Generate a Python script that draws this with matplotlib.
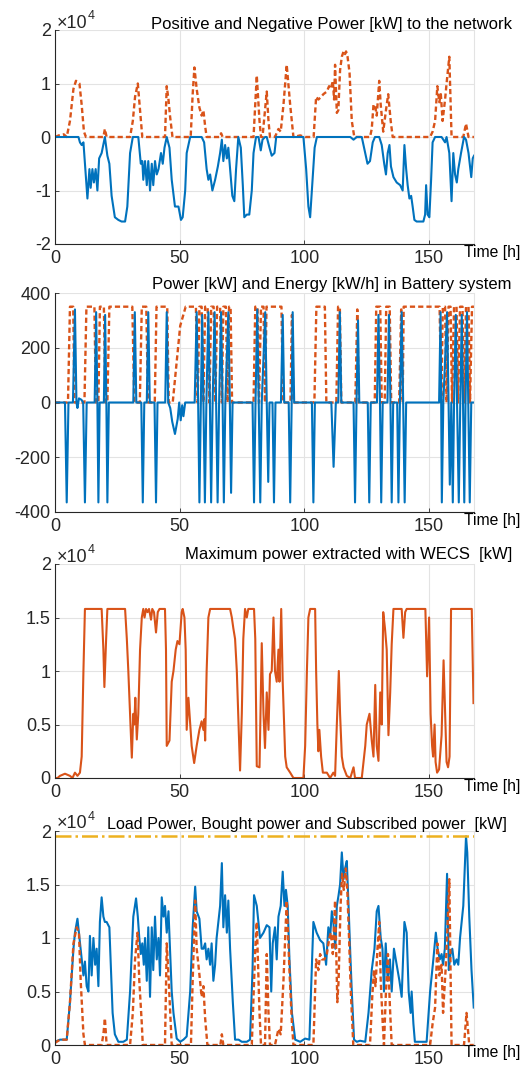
import matplotlib
matplotlib.use('Agg')
import matplotlib.pyplot as plt

plt.rcParams['font.family'] = ['Liberation Sans', 'DejaVu Sans']
plt.rcParams['axes.unicode_minus'] = False

# ---- data, power values in units of 1e4 kW ----
# panel 1: power to the network
net_neg_t = [0, 9.4, 10.0, 10.7, 11.4, 12.0, 13.0, 13.8, 14.3, 15.0, 15.6, 16.3, 17.0, 17.7, 18.7, 20.0,
             21.0, 21.8, 22.7, 24.0, 25.4, 26.7, 28.1, 29.0, 30.1, 31.2, 33.4, 34.4, 35.0, 35.4, 36.1,
             36.8, 37.4, 38.1, 38.8, 39.4, 40.1, 40.8, 41.5, 42.5, 43.2, 43.9, 44.8, 45.9, 46.8, 48.1,
             49.5, 50.5, 51.2, 52.2, 52.8, 54.2, 58.8, 59.8, 60.8, 61.5, 62.2, 63.1, 64.2, 65.3, 66.2,
             66.9, 67.5, 68.2, 68.9, 69.5, 70.2, 71.1, 71.9, 72.6, 73.5, 74.5, 75.3, 75.9, 76.9, 77.9,
             78.9, 79.6, 80.6, 81.6, 82.5, 83.2, 84.2, 84.9, 86.0, 86.9, 88.0, 88.7, 99.6, 100.7, 101.6,
             102.3, 103.0, 104.1, 105.0, 118.4, 119.7, 121.0, 123.0, 124.4, 125.3, 126.3, 127.4, 128.3,
             130.0, 131.0, 132.0, 132.7, 133.4, 134.1, 134.7, 135.7, 137.0, 138.4, 139.4, 140.1, 140.8,
             141.4, 142.1, 142.8, 143.4, 144.1, 145.0, 147.7, 148.4, 148.8, 149.4, 150.1, 150.8, 151.4,
             152.4, 155.0, 155.7, 156.4, 157.0, 158.1, 159.0, 159.7, 160.4, 161.1, 161.7, 162.8, 164.0,
             164.8, 165.8, 166.9, 167.5, 168.0]
net_neg_v = [0, 0, -0.1, -0.15, -0.1, -0.5, -1.15, -0.6, -0.95, -0.6, -0.85, -0.6, -1.0, -0.4, -0.3, 0.0,
             -0.35, -0.5, -1.1, -1.5, -1.55, -1.58, -1.58, -1.3, -0.3, 0.0, 0.0, -0.5, -0.45, -0.8, -0.45,
             -0.9, -0.45, -1.0, -0.5, -0.9, -0.45, -0.7, -0.6, -0.3, -0.5, -0.2, 0.0, -0.2, -0.8, -1.3,
             -1.3, -1.55, -1.5, -1.0, -0.3, 0.0, 0.0, -0.1, -0.6, -0.8, -0.7, -1.0, -0.8, -0.55, -0.3,
             -0.05, -0.45, -0.15, -0.4, -0.2, -0.6, -1.1, -1.2, -0.6, 0.0, -0.2, -0.9, -1.5, -1.45, -1.45,
             -1.0, -0.3, 0.0, 0.0, -0.25, -0.05, 0.0, 0.0, -0.2, -0.35, -0.3, 0.0, 0.0, -0.6, -1.3,
             -1.5, -1.0, -0.2, 0.0, 0.0, -0.05, 0.0, 0.0, -0.3, -0.5, -0.45, -0.1, 0.0,
             0.0, -0.15, -0.5, -0.7, -0.3, -0.15, -0.55, -0.75, -0.85, -0.9, -1.0, -0.15, -0.6,
             -0.9, -1.15, -1.1, -1.3, -1.55, -1.58, -1.58, -1.45, -0.9, -1.45, -1.5, -0.8, -0.1,
             0.0, 0.0, -0.05, -0.1, 0.0, -0.3, -1.2, -0.3, -0.7, -0.85, -0.6, -0.3, 0.0,
             -0.05, -0.3, -0.75, -0.4, -0.35]

net_pos_t = [0, 1.5, 3.5, 4.7, 6.0, 7.4, 8.4, 9.8, 10.7, 11.6, 12.4, 19.4, 20.0, 20.7, 30.1, 31.2, 32.1,
             33.2, 34.1, 35.0, 44.1, 44.8, 45.5, 46.1, 47.1, 54.4, 55.2, 55.9, 56.8, 57.9, 58.8, 59.5,
             60.2, 60.8, 66.0, 66.6, 67.2, 79.6, 80.9, 82.0, 82.6, 83.2, 84.9, 85.6, 86.2, 88.2, 89.6,
             90.5, 91.6, 92.9, 94.3, 95.6, 98.3, 100.3, 103.7, 104.7, 105.6, 106.7, 107.6, 109.0, 109.9,
             110.6, 111.4, 111.9, 112.3, 113.0, 113.6, 114.3, 115.0, 115.7, 116.3, 116.7, 117.3, 118.1,
             119.0, 120.0, 126.3, 127.0, 127.7, 128.3, 129.0, 130.0, 130.6, 131.6, 132.7, 133.6, 134.6,
             135.4, 150.4, 151.4, 152.4, 153.3, 154.1, 154.7, 155.4, 156.4, 157.0, 158.1, 159.0, 163.7,
             164.8, 165.8, 168.0]
net_pos_v = [0, 0.03, 0.05, 0.0, 0.3, 0.9, 1.05, 1.0, 0.6, 0.1, 0.0, 0.0, 0.15, 0.0, 0.0, 0.3, 0.75,
             1.0, 0.5, 0.0, 0.0, 0.95, 0.7, 0.4, 0.0, 0.0, 0.8, 1.3, 0.9, 0.55, 0.4, 0.5,
             0.2, 0.0, 0.0, 0.07, 0.0, 0.0, 1.15, 0.3, 0.0, 0.0, 0.85, 0.3, 0.0, 0.0, 0.15,
             0.1, 0.6, 1.35, 0.6, 0.0, 0.03, 0.0, 0.0, 0.75, 0.7, 0.75, 0.8, 0.85, 0.95,
             0.9, 1.05, 0.7, 1.35, 0.45, 0.5, 1.25, 1.5, 1.6, 1.55, 1.6, 1.5, 1.2,
             0.3, 0.0, 0.0, 0.15, 0.6, 0.6, 0.4, 1.05, 0.6, 0.1, 0.5, 0.8, 0.3,
             0.0, 0.0, 0.1, 0.3, 0.95, 0.65, 0.8, 0.3, 0.7, 1.0, 1.5, 0.0, 0.0,
             0.25, 0.0, 0.0]

# panel 2: battery power [kW] and energy [kW/h]
bat_p_t = [0, 4.0, 4.7, 5.4, 7.2, 8.0, 8.6, 9.0, 9.6, 10.6, 11.3, 12.0, 12.7, 15.9, 16.5, 17.0, 17.4,
           17.9, 19.6, 20.1, 20.6, 21.0, 21.6, 31.4, 32.0, 32.6, 34.6, 35.2, 35.8, 36.8, 37.4, 38.0,
           39.9, 40.5, 41.1, 44.2, 44.8, 45.4, 46.2, 47.0, 48.1, 49.2, 49.8, 50.4, 51.0, 51.5, 52.2,
           56.0, 56.8, 57.4, 57.9, 58.5, 59.0, 59.5, 60.1, 60.7, 61.5, 62.1, 62.6, 63.2, 64.0, 64.6,
           65.2, 65.8, 66.6, 67.2, 67.7, 68.3, 69.5, 70.1, 70.6, 71.2, 79.2, 79.8, 80.4, 81.1, 81.7,
           82.3, 82.9, 84.3, 84.9, 85.5, 86.0, 87.2, 87.8, 88.4, 90.6, 91.3, 91.9, 93.7, 94.3, 94.9,
           95.3, 95.9, 103.0, 103.6, 104.2, 110.8, 111.7, 112.6, 113.6, 114.2, 114.8, 119.7, 120.3,
           120.9, 121.5, 122.0, 125.4, 126.0, 126.6, 129.1, 129.7, 130.3, 130.8, 131.4, 133.3, 133.9,
           134.5, 135.0, 135.6, 137.2, 137.7, 138.3, 139.0, 139.6, 140.2, 140.8, 154.0, 154.6, 155.1,
           155.7, 157.2, 157.8, 158.3, 158.9, 159.5, 160.0, 160.7, 161.2, 161.9, 162.5, 163.1, 163.6,
           164.1, 164.6, 165.2, 165.7, 166.3, 166.9, 168.0]
bat_p_v = [0, 0, -365, 0, 0, 340, 0, -20, 15, 10, 0, -365, 0, 0, 330, 0, -365,
           0, 0, 320, 0, -365, 0, 0, 330, 0, 0, -365, 0, 0, 330, 0,
           0, -365, 0, 0, 330, 0, -20, -70, -115, -60, 0, -65, -10, -50, 0,
           0, 330, 0, -365, 0, 320, 0, -365, 0, 330, 0, -365, 0, 330, 0,
           -365, 0, 330, 0, -365, 0, 330, 0, -330, 0, 0, -365, 0, 340, 0,
           -365, 0, 330, 0, -290, 0, 0, -365, 0, 0, 320, 0, 0, -365, 0,
           330, 0, 0, -365, 0, 0, -235, 0, 0, 330, 0, 0, -365,
           0, 300, 0, 0, -365, 0, 0, 320, 0, -365, 0, 0, 320,
           0, -365, 0, 0, -365, 0, 330, 0, -365, 0, 0, 330, -365,
           0, 330, 0, -300, 0, -365, 0, 320, 0, -365, 0, 320, 0,
           -365, 0, 330, 0, -365, 0, 0]

bat_e_t = [0, 5.2, 6.0, 7.3, 7.8, 11.8, 12.6, 15.8, 16.4, 17.4, 18.0, 19.6, 20.2, 21.0, 21.8, 31.0,
           31.8, 34.0, 34.8, 36.6, 37.3, 40.0, 40.7, 45.0, 45.6, 47.2, 50.2, 52.4, 56.5, 57.2, 57.9,
           58.8, 59.5, 60.2, 61.2, 61.9, 62.6, 63.6, 64.3, 65.0, 66.2, 66.9, 67.5, 68.5, 69.2, 69.8,
           70.4, 71.0, 79.6, 80.3, 81.2, 81.8, 82.6, 83.6, 84.2, 84.8, 90.8, 91.4, 94.4, 95.0, 95.6,
           104.0, 104.8, 108.2, 108.8, 112.8, 113.5, 114.2, 114.8, 120.4, 121.2, 121.8, 128.2, 128.8,
           130.4, 131.0, 132.2, 132.8, 134.2, 134.8, 138.0, 138.8, 139.4, 139.8, 154.2, 154.9, 155.5,
           156.4, 157.0, 157.8, 158.6, 159.2, 160.0, 161.0, 161.6, 162.4, 163.4, 164.0, 164.8, 165.8,
           166.4, 167.2, 168.0]
bat_e_v = [0, 0, 350, 350, 0, 0, 350, 350, 0, 0, 350, 350, 0, 0, 350, 350,
           0, 0, 350, 350, 0, 0, 350, 350, 0, 0, 280, 350, 350, 0, 350,
           350, 0, 350, 350, 0, 350, 350, 0, 350, 350, 0, 350, 350, 0, 350,
           350, 0, 0, 350, 350, 0, 350, 350, 0, 350, 350, 0, 0, 320, 0,
           0, 350, 350, 0, 0, 350, 350, 0, 0, 340, 0, 0, 350,
           350, 0, 0, 350, 350, 0, 0, 340, 0, 350, 350, 0, 350,
           350, 0, 350, 350, 0, 350, 350, 0, 350, 350, 0, 350, 350,
           0, 350, 350]

# panel 3: maximum power extracted with WECS
wecs_t = [0, 1.0, 2.0, 4.0, 6.0, 7.0, 8.0, 9.0, 10.0, 10.7, 11.4, 12.0, 18.7, 19.4, 19.8, 20.5, 21.0,
          28.1, 28.8, 29.4, 30.1, 30.8, 31.4, 31.8, 32.2, 32.8, 33.4, 34.1, 34.8, 35.4, 35.9, 36.5,
          37.1, 37.7, 38.5, 39.0, 39.7, 40.5, 41.2, 41.9, 44.1, 44.5, 44.8, 45.9, 46.8, 47.5, 48.4,
          49.1, 49.9, 50.8, 51.2, 51.9, 52.4, 52.8, 53.5, 54.2, 54.8, 55.8, 56.8, 57.9, 58.8, 59.5,
          59.9, 60.2, 60.8, 61.5, 62.2, 70.2, 70.9, 71.5, 72.2, 72.9, 73.6, 74.2, 74.9, 75.5, 76.2,
          76.9, 77.5, 79.8, 80.3, 80.9, 82.0, 82.9, 83.6, 84.2, 84.9, 85.6, 86.2, 86.9, 87.6, 88.2,
          88.9, 89.6, 90.0, 90.7, 91.3, 92.3, 92.9, 94.3, 95.6, 99.6, 100.3, 101.0, 101.6, 102.3,
          104.3, 104.7, 105.2, 105.6, 106.0, 106.7, 107.4, 109.0, 110.3, 111.6, 112.3, 113.0, 113.8,
          114.3, 115.0, 115.7, 117.0, 118.4, 119.7, 120.3, 123.0, 124.4, 125.0, 126.1, 127.0, 127.7,
          128.4, 129.0, 129.7, 130.4, 131.0, 131.6, 132.3, 133.0, 133.7, 134.4, 135.0, 135.7, 139.0,
          139.7, 140.4, 141.0, 148.5, 149.2, 150.0, 150.6, 151.2, 151.6, 152.2, 152.6, 153.2, 154.0,
          155.0, 155.8, 156.3, 157.0, 157.6, 158.2, 158.8, 167.1, 167.8]
wecs_v = [0, 0.0, 0.02, 0.04, 0.02, 0.0, 0.05, 0.02, 0.05, 0.2, 1.0, 1.58, 1.58, 1.2, 0.85, 1.3, 1.58,
          1.58, 1.3, 1.0, 0.6, 0.19, 0.6, 0.5, 0.75, 0.36, 0.6, 1.2, 1.5, 1.58, 1.5, 1.58,
          1.55, 1.58, 1.48, 1.58, 1.55, 1.36, 1.55, 1.58, 1.58, 1.2, 0.3, 0.35, 0.9, 1.0, 1.2,
          1.28, 1.25, 1.55, 1.58, 1.5, 1.2, 0.45, 0.75, 0.5, 0.3, 0.14, 0.3, 0.45, 0.53, 0.45,
          0.55, 0.35, 1.0, 1.5, 1.58, 1.58, 1.5, 1.4, 1.3, 1.0, 0.5, 0.07, 0.6, 1.3, 1.58,
          1.5, 1.58, 1.58, 1.3, 0.11, 0.1, 1.26, 0.6, 0.28, 0.8, 0.45, 0.97, 1.0, 1.5, 1.0,
          0.9, 1.2, 0.9, 1.58, 0.9, 0.2, 0.1, 0.05, 0.0, 0.0, 0.3, 1.0, 1.5, 1.58,
          1.58, 1.0, 0.5, 0.25, 0.45, 0.2, 0.05, 0.05, 0.0, 0.05, 0.02, 0.5, 1.0,
          0.6, 0.2, 0.1, 0.02, 0.0, 0.1, 0.0, 0.0, 0.3, 0.5, 0.6, 0.35, 0.2,
          0.87, 0.3, 0.16, 0.8, 0.5, 1.55, 1.4, 1.2, 0.4, 0.8, 1.25, 1.58, 1.58,
          1.31, 1.55, 1.58, 1.58, 0.95, 1.5, 0.6, 0.3, 0.2, 0.5, 0.15, 0.05, 0.08,
          0.4, 1.1, 0.7, 0.15, 0.1, 0.2, 1.58, 1.58, 0.7]

# panel 4: load, bought and subscribed power
load_t = [0, 2.0, 4.7, 6.0, 7.4, 8.0, 9.0, 9.8, 10.7, 11.4, 12.0, 12.7, 13.4, 14.0, 14.7, 15.4, 16.1,
          16.7, 17.4, 18.0, 18.7, 19.4, 20.0, 20.7, 21.8, 22.3, 23.1, 24.0, 25.4, 27.4, 28.8, 30.1,
          31.4, 32.5, 33.2, 33.8, 34.4, 35.0, 35.6, 36.1, 36.8, 37.4, 38.1, 38.8, 39.4, 40.1, 40.8,
          41.5, 42.1, 42.8, 43.5, 44.1, 44.8, 45.5, 46.1, 46.8, 47.5, 48.8, 50.2, 51.5, 52.8, 54.2,
          55.2, 56.2, 56.8, 57.9, 58.8, 59.5, 60.2, 60.8, 61.5, 62.2, 62.8, 63.5, 64.2, 64.8, 65.5,
          66.2, 66.9, 67.5, 68.2, 68.9, 69.5, 70.2, 71.3, 72.2, 73.6, 74.9, 76.9, 78.2, 79.2, 79.8,
          80.9, 82.2, 83.6, 84.9, 86.0, 86.7, 87.3, 88.2, 88.9, 89.6, 90.5, 91.3, 92.0, 92.6, 93.3,
          94.0, 95.0, 96.3, 98.3, 100.3, 102.0, 103.6, 104.9, 106.3, 107.6, 108.7, 109.6, 110.3, 111.0,
          111.6, 112.4, 113.0, 113.7, 114.3, 115.0, 115.7, 116.3, 117.0, 117.7, 118.4, 119.0, 119.9,
          121.0, 122.3, 124.4, 125.7, 127.0, 128.1, 129.0, 129.7, 130.6, 131.3, 131.9, 132.6, 133.4,
          134.3, 135.0, 135.9, 137.0, 138.1, 139.0, 140.1, 141.0, 141.8, 142.6, 143.0, 143.7, 144.3,
          146.3, 149.0, 150.4, 151.7, 152.7, 153.4, 154.3, 155.0, 155.6, 156.3, 157.2, 157.9, 158.6,
          159.3, 160.1, 161.0, 161.7, 162.4, 163.7, 164.8, 165.3, 166.1, 167.0, 167.9]
load_v = [0.03, 0.05, 0.05, 0.4, 0.9, 1.05, 1.18, 1.0, 0.8, 0.65, 0.78, 0.55, 0.5, 1.02, 0.65, 1.0, 0.75,
          0.9, 0.55, 1.15, 1.38, 1.2, 1.15, 1.15, 1.1, 0.8, 0.3, 0.1, 0.03, 0.03, 0.05, 0.5,
          1.2, 1.37, 1.2, 1.0, 0.85, 0.95, 0.75, 1.0, 0.6, 1.1, 0.45, 1.1, 0.7, 1.2, 0.8,
          1.0, 0.65, 1.38, 1.2, 1.3, 1.05, 1.25, 0.9, 0.5, 0.3, 0.06, 0.03, 0.05, 0.08, 0.5,
          1.1, 1.48, 1.25, 1.18, 0.9, 0.9, 0.95, 0.8, 0.9, 0.75, 0.95, 0.6, 0.75, 1.0, 1.15,
          1.3, 1.7, 1.1, 1.4, 1.05, 1.35, 0.9, 0.4, 0.05, 0.05, 0.03, 0.03, 0.05, 0.7, 1.4,
          1.3, 1.0, 1.05, 1.12, 1.1, 0.5, 0.95, 1.1, 0.8, 1.2, 1.3, 1.62, 1.3, 1.45, 1.3,
          0.8, 0.3, 0.05, 0.03, 0.06, 0.05, 1.15, 1.05, 0.98, 0.95, 0.75, 1.1, 1.0, 1.25,
          1.15, 0.9, 1.3, 1.4, 1.5, 1.8, 1.55, 1.65, 1.72, 1.3, 0.85, 0.5, 0.05,
          0.03, 0.04, 0.03, 0.3, 0.7, 0.9, 1.25, 1.3, 1.0, 0.9, 0.5, 0.95, 0.6,
          0.8, 0.5, 0.9, 0.75, 0.6, 0.45, 1.15, 1.05, 0.5, 0.3, 0.5, 0.2, 0.03,
          0.03, 0.03, 0.5, 0.8, 1.05, 0.9, 0.8, 0.85, 0.75, 0.9, 1.6, 0.7, 0.85,
          0.9, 0.75, 0.8, 0.75, 1.0, 1.3, 1.95, 1.8, 1.2, 0.7, 0.35]

bought_t = [0, 2.0, 4.7, 6.0, 7.4, 8.7, 9.6, 10.3, 11.4, 12.0, 18.7, 19.4, 20.0, 20.7, 30.1, 31.2, 32.1,
            33.1, 33.8, 34.8, 35.2, 44.1, 44.8, 45.5, 46.1, 46.8, 54.5, 55.2, 56.2, 56.8, 57.5, 58.8,
            59.5, 60.2, 61.1, 66.3, 66.9, 67.5, 78.9, 80.3, 80.9, 82.0, 82.6, 84.2, 84.9, 85.6, 86.2,
            88.2, 89.6, 90.5, 91.6, 92.9, 94.0, 95.0, 95.6, 103.6, 104.7, 105.6, 106.3, 107.0, 108.0,
            109.0, 110.0, 110.6, 111.4, 112.3, 113.2, 113.7, 114.5, 115.1, 115.8, 116.6, 117.2, 117.9,
            118.6, 119.6, 126.3, 127.2, 127.9, 128.5, 129.3, 130.0, 130.6, 131.4, 131.9, 132.7, 133.5,
            134.3, 135.0, 150.4, 151.4, 152.4, 153.3, 154.1, 155.0, 155.6, 156.6, 157.2, 158.1, 159.0,
            164.0, 165.0, 166.1, 167.9]
bought_v = [0.02, 0.05, 0.05, 0.4, 0.95, 1.1, 1.05, 0.6, 0.1, 0.0, 0.0, 0.1, 0.25, 0.0, 0.0, 0.3, 0.8,
            1.05, 0.6, 0.2, 0.0, 0.0, 0.95, 0.65, 0.35, 0.0, 0.0, 0.6, 1.35, 0.9, 0.75, 0.45,
            0.55, 0.25, 0.0, 0.0, 0.1, 0.0, 0.0, 0.9, 1.15, 0.3, 0.0, 0.0, 0.85, 0.3, 0.0,
            0.0, 0.15, 0.1, 0.6, 1.35, 0.7, 0.2, 0.0, 0.0, 0.8, 0.7, 0.85, 0.8, 0.8,
            0.85, 1.0, 1.05, 0.85, 1.35, 0.4, 0.6, 1.3, 1.6, 1.45, 1.65, 1.45, 1.0,
            0.5, 0.0, 0.0, 0.45, 0.7, 0.55, 0.9, 1.15, 0.6, 0.2, 0.0, 0.5, 0.85,
            0.35, 0.0, 0.0, 0.2, 0.35, 0.95, 0.65, 0.75, 0.3, 0.7, 1.0, 1.55, 0.0,
            0.0, 0.3, 0.0, 0.0]

subscribed = 1.95

xticks = [0, 50, 100, 150]
titles = ['Positive and Negative Power [kW] to the network',
          'Power [kW] and Energy [kW/h] in Battery system',
          'Maximum power extracted with WECS  [kW]',
          'Load Power, Bought power and Subscribed power  [kW]']

# MATLAB default colours
c_blue = '#0072BD'
c_orange = '#D95319'
c_yellow = '#EDB120'

W, H = 523, 1066
fig = plt.figure(figsize=(W / 100, H / 100), dpi=100)


def add_panel(top, bottom):
    ax = fig.add_axes([55 / W, 1 - bottom / H, 419 / W, (bottom - top) / H])
    ax.set_xlim(0, 168)
    ax.set_xticks(xticks)
    ax.grid(True, color='#e3e3e3', lw=0.8)
    ax.set_axisbelow(True)
    for s in ['left', 'bottom']:
        ax.spines[s].set_color('#262626')
        ax.spines[s].set_linewidth(0.8)
    ax.spines['top'].set_visible(False)
    ax.spines['right'].set_color('#e3e3e3')
    ax.spines['right'].set_linewidth(0.8)
    ax.tick_params(direction='in', length=3, width=0.6, colors='#262626',
                   labelsize=13, top=False, right=False)
    ax.tick_params(axis='x', pad=4)
    ax.tick_params(axis='y', pad=3)
    return ax


def px_text(x, y, s, **kw):
    fig.text(x / W, 1 - y / H, s, **kw)


dash = (2.2, 1.3)

# panel 1
ax1 = add_panel(30, 244)
ax1.plot(net_pos_t, net_pos_v, color=c_orange, lw=1.7, dashes=dash)
ax1.plot(net_neg_t, net_neg_v, color=c_blue, lw=1.5)
ax1.set_ylim(-2, 2)
ax1.set_yticks([-2, -1, 0, 1, 2])
ax1.set_yticklabels(['-2', '-1', '0', '1', '2'])

# panel 2
ax2 = add_panel(293, 512)
ax2.plot(bat_e_t, bat_e_v, color=c_orange, lw=1.7, dashes=dash)
ax2.plot(bat_p_t, bat_p_v, color=c_blue, lw=1.5)
ax2.set_ylim(-400, 400)
ax2.set_yticks([-400, -200, 0, 200, 400])

# panel 3
ax3 = add_panel(564, 778)
ax3.plot(wecs_t, wecs_v, color=c_orange, lw=1.5)
ax3.set_ylim(0, 2)
ax3.set_yticks([0, 0.5, 1, 1.5, 2])
ax3.set_yticklabels(['0', '0.5', '1', '1.5', '2'])

# panel 4
ax4 = add_panel(831, 1045)
ax4.plot(load_t, load_v, color=c_blue, lw=1.5)
ax4.plot(bought_t, bought_v, color=c_orange, lw=1.7, dashes=dash)
ax4.axhline(subscribed, color=c_yellow, lw=1.8, ls='-.')
ax4.set_ylim(0, 2)
ax4.set_yticks([0, 0.5, 1, 1.5, 2])
ax4.set_yticklabels(['0', '0.5', '1', '1.5', '2'])

# titles, x labels and exponent markers
title_y = [25, 285, 555, 825]
title_x = [512, 512, 512, 507]
title_fs = [12, 12, 12, 11.6]
time_y = [253, 520, 787, 1053]
for ty, tx, fs, t in zip(title_y, title_x, title_fs, titles):
    px_text(tx, ty, t, ha='right', va='center', fontsize=fs, color='black')
for yy in time_y:
    px_text(520, yy, 'Time [h]', ha='right', va='center', fontsize=11.3, color='black')
for top in [30, 564, 831]:
    px_text(57, top - 7, '\u00d710', ha='left', va='center', fontsize=13, color='#262626')
    px_text(88, top - 14, '4', ha='left', va='center', fontsize=9, color='#262626')

fig.savefig('out.png', dpi=100)
